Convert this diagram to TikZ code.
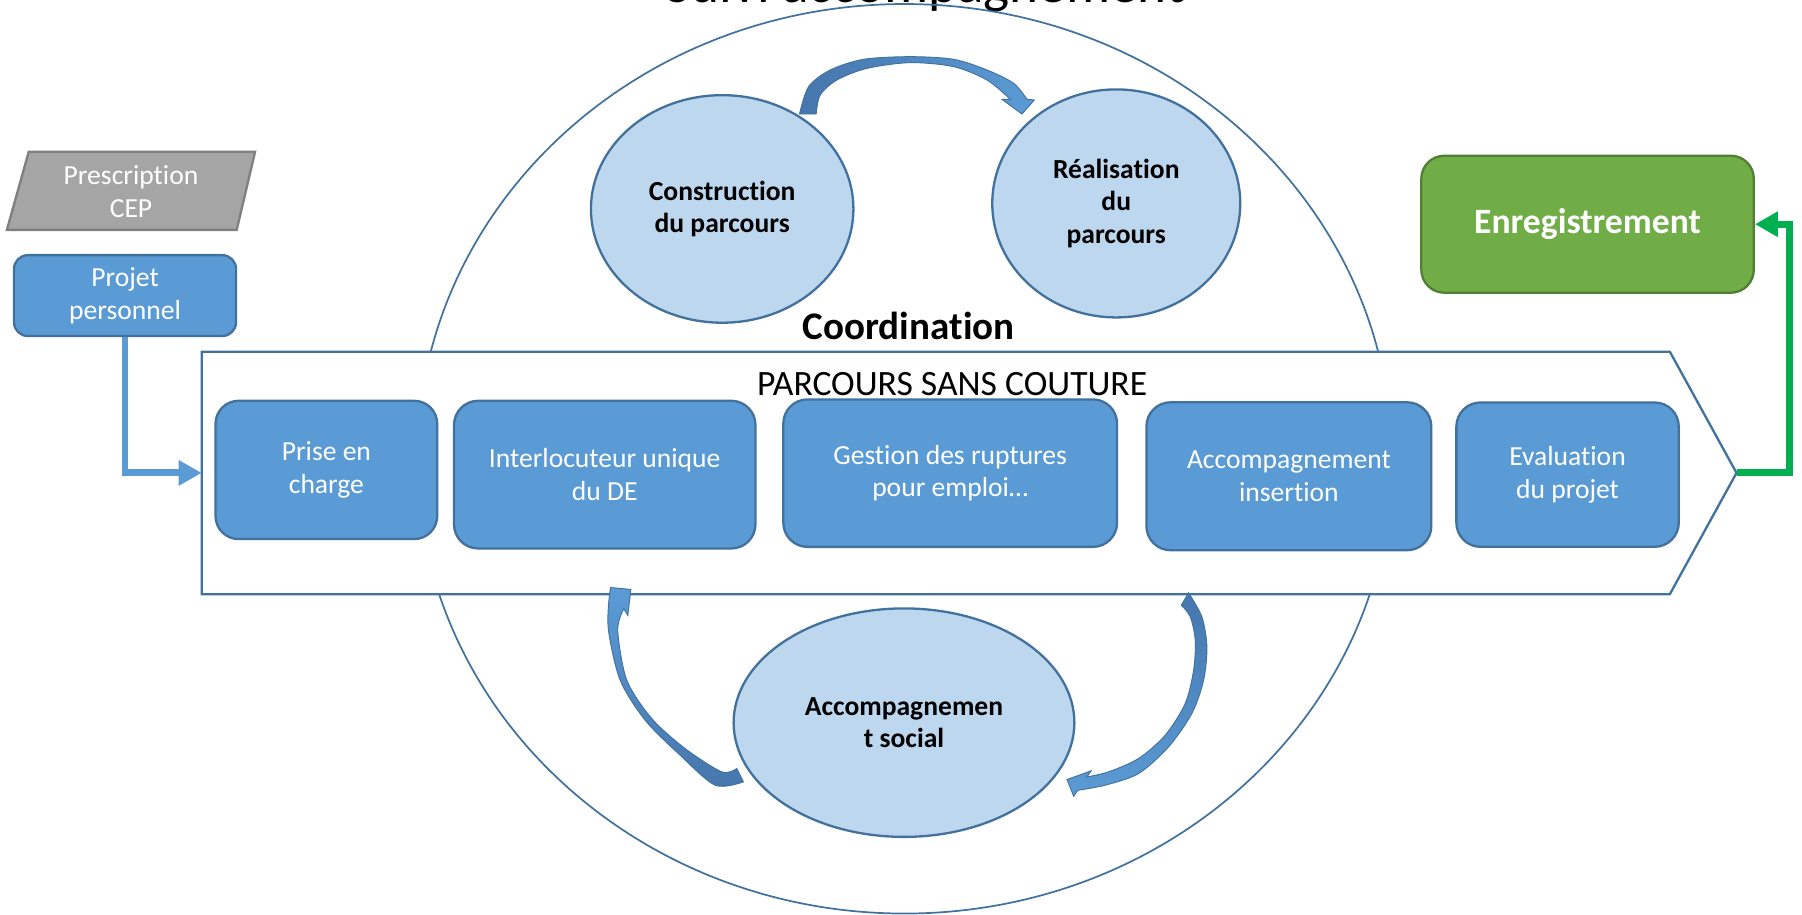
\documentclass[tikz,border=0pt]{standalone}
\usepackage{fontspec}
\setmainfont[Ligatures=NoCommon]{Carlito}
\usetikzlibrary{arrows.meta,shapes.geometric}
\definecolor{bfill}{HTML}{5B9BD5}
\definecolor{bline}{HTML}{41719C}
\definecolor{lfill}{HTML}{BDD7EE}
\definecolor{gfill}{HTML}{A5A5A5}
\definecolor{gline}{HTML}{7F7F7F}
\definecolor{grfill}{HTML}{70AD47}
\definecolor{grline}{HTML}{507E32}
\definecolor{grarrow}{HTML}{00B050}
\definecolor{darkband}{HTML}{4676AD}
\tikzset{
  boxtxt/.style={font=\fontsize{24}{28.5}\selectfont, text=white, align=center},
  bluebox/.style={draw=bline, line width=2pt, fill=bfill, rounded corners=#1, inner sep=0pt, boxtxt},
  greenbox/.style={draw=grline, line width=2pt, fill=grfill, rounded corners=20pt, inner sep=0pt,
                   text=white, font=\bfseries\fontsize{31}{37}\selectfont},
  lightell/.style={ellipse, draw=bline, line width=2pt, fill=lfill, inner sep=0pt, align=center,
                   font=\bfseries\fontsize{24}{28.5}\selectfont},
  bigring/.style={draw=bline, line width=1.5pt},
  chevron/.style={draw=bline, line width=2pt, fill=white},
  curvarrow/.style={draw=bline, line width=0.8pt},
  bconn/.style={draw=bfill, line width=6pt, -{Triangle[length=20pt,width=21pt]}},
  gconn/.style={draw=grarrow, line width=6pt, -{Triangle[length=20pt,width=21pt]}},
}
\begin{document}
\begin{tikzpicture}[x=1pt,y=-1pt]
\useasboundingbox (0,0) rectangle (1568,796);

% title (cut off at the top, as in the original)
\begin{scope}
\clip (0,0) rectangle (1568,796);
\node[anchor=base, font=\fontsize{48}{58}\selectfont] (title) at (805,2) {Suivi accompagnement};
\end{scope}

% big ring
\draw[bigring] (787,399.2) ellipse [x radius=424, y radius=395.7];

% upper ellipses
\node[lightell, minimum width=228.4pt, minimum height=198pt] (cons) at (628.4,181.8) {Construction\\du parcours};
\node[lightell, minimum width=215.8pt, minimum height=198.4pt] (real) at (971.3,177) {Réalisation\\du\\parcours};

% top curved arrow
\draw[curvarrow, left color=darkband, right color=bfill]
  plot[smooth] coordinates {(695.7,99.2) (703.6,75.4) (722.4,60.9) (751.4,51.6) (792,49.3) (829.8,51.6) (858.8,60.9) (882,72.5) (893.6,86.4)}
  -- (900.0,87.0) -- (889.2,99.2) -- (871.8,86.4)
  -- plot[smooth] coordinates {(879.1,86.4) (858.8,69.6) (829.8,58) (792,54.5) (754.3,59.5) (728.2,69.6) (713.7,82.7) (710.2,99.2)}
  -- cycle;

\node[anchor=base, font=\bfseries\fontsize{34}{40}\selectfont] (coord) at (790.7,295.5) {Coordination};

% chevron
\draw[chevron] (175.5,306) -- (1453,306) -- (1511,411.5) -- (1453,517) -- (175.5,517) -- cycle;
\coordinate (chevW) at (175.5,411.5);
\coordinate (chevE) at (1511,411.5);
\node[anchor=base, font=\fontsize{31}{37}\selectfont] (pst) at (828.5,344.5) {PARCOURS SANS COUTURE};

% boxes in chevron
\node[bluebox=20pt, minimum width=192.9pt, minimum height=120.3pt] (prise) at (284,408.9) {Prise en\\charge};
\node[bluebox=21pt, minimum width=262.3pt, minimum height=128.5pt] (inter) at (526.2,413) {Interlocuteur unique\\du DE};
\node[bluebox=21pt, minimum width=290.4pt, minimum height=128.3pt] (gest) at (826.8,411.7) {Gestion des ruptures\\pour emploi…};
\node[bluebox=21pt, minimum width=247.9pt, minimum height=128.7pt] (accins) at (1121.5,414.4) {Accompagnement\\insertion};
\node[bluebox=21pt, minimum width=193.5pt, minimum height=125.6pt] (eval) at (1364,413) {Evaluation\\du projet};

% left side
\draw[draw=gline, fill=gfill, line width=2pt] (25,132) -- (222,132) -- (206,200) -- (6,200) -- cycle;
\node[boxtxt] (prescr) at (114,167) {Prescription\\CEP};
\node[bluebox=12pt, minimum width=193.2pt, minimum height=70.4pt] (proj) at (108.8,257.2) {Projet\\personnel};
\draw[bconn] (proj.south) |- (chevW);

% right side
\node[greenbox, minimum width=289.3pt, minimum height=119.2pt] (enr) at (1381.4,195.1) {Enregistrement};
\coordinate (gcorner) at (1557.3,411.5);
\draw[gconn] (chevE) -- (gcorner) |- (enr.east);

% bottom ellipse
\node[lightell, minimum width=296.5pt, minimum height=198.8pt] (soc) at (786.6,628.8) {Accompagnemen\\t social};

% bottom-left curved arrow (from social ellipse up to the chevron)
\draw[curvarrow, top color=bfill, bottom color=darkband]
  plot[smooth] coordinates {(646.9,680.3) (622.2,683.2) (590.3,655.7) (561.3,626.6) (539.6,591.8) (529.4,548.3) (530.0,520.8)}
  -- (531.2,511.2) -- (548.9,512.9) -- (546.3,535.5)
  -- plot[smooth] coordinates {(542.8,529.8) (537.5,548.3) (545.4,591.8) (567.1,625.2) (596.1,651.3) (628.0,671.6) (641.1,668.7)}
  -- cycle;

% bottom-right curved arrow (from the chevron down to the social ellipse)
\draw[curvarrow, top color=darkband, bottom color=bfill]
  plot[smooth] coordinates {(1034.2,515.8) (1045.8,536.7) (1050.2,562.8) (1047.3,591.8) (1037.1,620.8) (1016.8,649.9) (990.7,673.1) (961.7,683.2) (937.9,687.6)}
  -- (934.2,692.8) -- (928.4,678.3) -- (949.5,670.7)
  -- plot[smooth] coordinates {(945.8,676.0) (964.6,671.6) (990.7,660.0) (1013.9,639.7) (1031.3,612.1) (1038.6,583.1) (1040.0,557.0) (1035.7,536.7) (1027.9,526.6)}
  -- cycle;
\end{tikzpicture}
\end{document}
